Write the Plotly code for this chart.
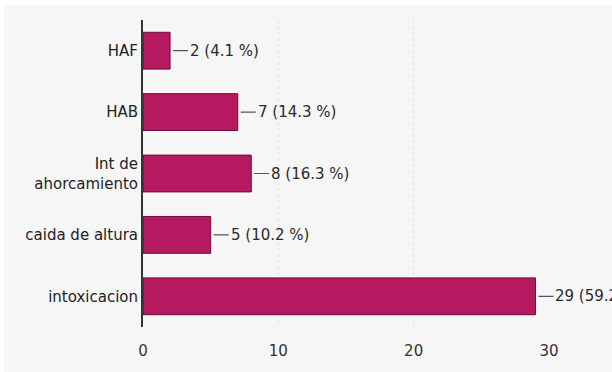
import plotly.graph_objects as go

categories = ["HAF", "HAB", "Int de<br>ahorcamiento", "caida de altura", "intoxicacion"]
values = [2, 7, 8, 5, 29]
percents = ["4.1", "14.3", "16.3", "10.2", "59.2"]
x_ticks = [0, 10, 20, 30]

FONT = "DejaVu Sans, Roboto, Arial"

fig = go.Figure()
fig.add_trace(go.Bar(
    y=categories, x=values, orientation="h",
    marker=dict(color="#b5195f", line=dict(color="#6e0c38", width=1)),
    width=0.6, hoverinfo="skip",
))

for c, v, p in zip(categories, values, percents):
    fig.add_annotation(
        x=v, y=c, xref="x", yref="y",
        text=f"{v} ({p} %)", showarrow=True, arrowhead=0, arrowwidth=1.2,
        arrowcolor="#555555", ax=18, ay=0, xanchor="left", standoff=3,
        font=dict(family=FONT, size=15, color="#2a2a2a"),
    )

# white frame strips at the top and left edge of the picture
fig.add_shape(type="rect", xref="paper", yref="paper", x0=-0.5, x1=1.5,
              y0=1.048, y1=1.2, fillcolor="white", line_width=0, layer="below")
fig.add_shape(type="rect", xref="paper", yref="paper", x0=-0.5, x1=-0.343,
              y0=-0.3, y1=1.2, fillcolor="white", line_width=0, layer="below")

fig.update_layout(
    width=612, height=372,
    margin=dict(l=143, r=63, t=20, b=39),
    paper_bgcolor="#f6f6f6", plot_bgcolor="#f6f6f6",
    showlegend=False,
    font=dict(family=FONT, size=15, color="#222222"),
    xaxis=dict(range=[0, 30], tickvals=x_ticks, showgrid=True,
               gridcolor="#e2e2e2", griddash="dot", gridwidth=1,
               zeroline=False, showline=False, ticks="", ticklabelstandoff=13,
               tickfont=dict(family=FONT, size=15, color="#333333"), fixedrange=True),
    yaxis=dict(categoryorder="array", categoryarray=categories[::-1],
               showline=True, linecolor="#333333", linewidth=2,
               showgrid=False, ticks="", ticklabelstandoff=0,
               tickfont=dict(family=FONT, size=15, color="#222222"), fixedrange=True),
)

fig.write_html("out.html")
